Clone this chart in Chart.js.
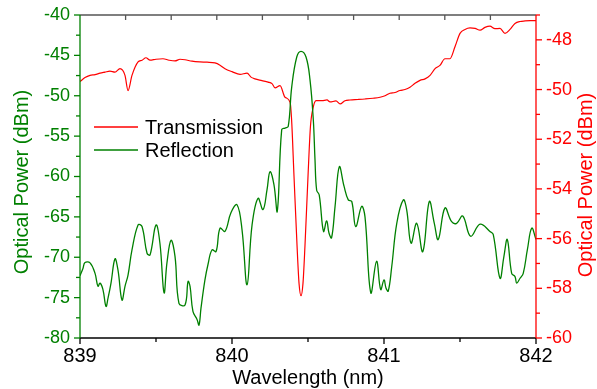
<!DOCTYPE html>
<html>
<head>
<meta charset="utf-8">
<script src="https://cdn.jsdelivr.net/npm/chart.js@4"></script>
<style>
  html, body { margin: 0; padding: 0; background: #fff; }
  canvas { display: block; }
</style>
</head>
<body>
<canvas id="chart" width="597" height="389"></canvas>
<script>
const GREEN = "#008000";
const RED = "#ff0000";
const FONT = "'Liberation Sans', Arial, sans-serif";

// Reflection (left axis, dBm)
const reflWl = [839.000, 839.020, 839.033, 839.066, 839.099, 839.118, 839.132, 839.151, 839.171, 839.184,
  839.204, 839.230, 839.250, 839.276, 839.296, 839.316, 839.342, 839.382, 839.408, 839.441,
  839.461, 839.500, 839.526, 839.553, 839.572, 839.599, 839.625, 839.651, 839.691, 839.711,
  839.724, 839.743, 839.770, 839.783, 839.796, 839.822, 839.842, 839.868, 839.895, 839.921,
  839.954, 839.993, 840.033, 840.066, 840.099, 840.132, 840.171, 840.204, 840.230, 840.250,
  840.276, 840.298, 840.327, 840.349, 840.370, 840.393, 840.426, 840.454, 840.487, 840.513,
  840.535, 840.546, 840.557, 840.574, 840.602, 840.623, 840.638, 840.655, 840.678, 840.706,
  840.737, 840.765, 840.788, 840.814, 840.853, 840.875, 840.913, 840.951, 840.978, 841.000,
  841.013, 841.028, 841.051, 841.084, 841.127, 841.149, 841.178, 841.215, 841.255, 841.298,
  841.331, 841.357, 841.401, 841.445, 841.478, 841.518, 841.570, 841.632, 841.697, 841.719,
  841.763, 841.789, 841.811, 841.840, 841.862, 841.873, 841.895, 841.916, 841.943, 841.972, 842.000];
const reflDbm = [-72.3, -71.35, -70.65, -70.7, -72.0, -73.6, -73.2, -74.0, -76.1, -75.1,
  -73.2, -70.2, -71.6, -75.3, -73.6, -72.2, -69.1, -66.0, -66.2, -69.5,
  -69.7, -66.0, -68.3, -74.4, -70.7, -67.9, -69.9, -75.7, -75.9, -73.0,
  -73.6, -76.7, -77.7, -78.4, -76.3, -72.8, -70.9, -69.1, -69.3, -66.4,
  -66.8, -64.5, -63.5, -66.6, -73.4, -66.0, -62.7, -64.1, -61.7, -59.4,
  -61.0, -64.3, -54.2, -54.0, -53.8, -48.9, -45.2, -44.5, -45.2, -48.0,
  -53.0, -57.9, -61.7, -62.3, -66.8, -65.5, -67.0, -67.6, -63.7, -58.8,
  -61.2, -62.9, -63.1, -66.2, -63.7, -65.0, -74.4, -70.5, -74.0, -72.8,
  -73.8, -74.2, -71.15, -65.8, -62.9, -64.1, -68.25, -65.8, -69.3, -63.1,
  -65.8, -67.8, -63.9, -65.6, -65.8, -64.9, -67.4, -65.9, -66.8, -67.2,
  -72.6, -69.9, -67.8, -72.0, -72.4, -73.2, -72.6, -72.0, -69.1, -66.4, -67.8];

// Transmission (right axis, dBm)
const transWl = [839.000, 839.033, 839.066, 839.099, 839.132, 839.164, 839.197, 839.230, 839.263, 839.296,
  839.316, 839.342, 839.382, 839.408, 839.434, 839.461, 839.500, 839.546, 839.586, 839.625,
  839.658, 839.691, 839.737, 839.789, 839.836, 839.888, 839.921, 839.954, 840.000, 840.053,
  840.099, 840.125, 840.151, 840.197, 840.237, 840.263, 840.283, 840.316, 840.349, 840.382,
  840.392, 840.408, 840.428, 840.441, 840.454, 840.467, 840.480, 840.500, 840.516, 840.533,
  840.553, 840.592, 840.625, 840.645, 840.684, 840.711, 840.743, 840.776, 840.829, 840.875,
  840.928, 840.974, 841.007, 841.039, 841.072, 841.105, 841.138, 841.171, 841.204, 841.237,
  841.270, 841.303, 841.336, 841.368, 841.401, 841.434, 841.467, 841.500, 841.533, 841.566,
  841.599, 841.632, 841.664, 841.697, 841.730, 841.763, 841.796, 841.829, 841.862, 841.895,
  841.928, 841.961, 842.000];
const transDbm = [-49.68, -49.52, -49.43, -49.40, -49.34, -49.30, -49.26, -49.30, -49.16, -49.43,
  -50.04, -49.43, -48.89, -48.82, -48.72, -48.82, -48.78, -48.76, -48.82, -48.85,
  -48.78, -48.80, -48.86, -48.89, -48.90, -48.93, -49.02, -49.16, -49.28, -49.39,
  -49.34, -49.50, -49.57, -49.64, -49.70, -49.76, -49.93, -49.84, -50.31, -50.51,
  -51.2, -53.5, -56.3, -57.8, -58.3, -57.8, -56.3, -53.5, -51.5, -50.75,
  -50.45, -50.45, -50.42, -50.50, -50.46, -50.58, -50.45, -50.42, -50.40, -50.38,
  -50.35, -50.31, -50.25, -50.15, -50.12, -50.04, -50.0, -49.91, -49.75, -49.63,
  -49.57, -49.43, -49.16, -49.03, -48.76, -48.76, -48.28, -47.74, -47.58, -47.52,
  -47.54, -47.61, -47.50, -47.45, -47.55, -47.54, -47.74, -47.58, -47.34, -47.26,
  -47.24, -47.23, -47.23];

const xTicks = [839, 840, 841, 842];
const leftTicks = [-80, -75, -70, -65, -60, -55, -50, -45, -40];
const rightTicks = [-60, -58, -56, -54, -52, -50, -48];
const seriesNames = ["Transmission", "Reflection"];

function toPoints(xs, ys) {
  return xs.map((x, i) => ({ x: x, y: ys[i] }));
}

const axesPlugin = {
  id: "axes",
  afterDraw(chart) {
    const ctx = chart.ctx;
    const a = chart.chartArea;
    const xs = chart.scales.x, yl = chart.scales.y, yr = chart.scales.y1;
    const seg = (x1, y1, x2, y2) => { ctx.beginPath(); ctx.moveTo(x1, y1); ctx.lineTo(x2, y2); ctx.stroke(); };
    ctx.save();
    ctx.lineWidth = 1.3;

    // top frame with inward ticks
    ctx.strokeStyle = "#555";
    seg(a.left, a.top, a.right, a.top);
    for (let i = 1; i < 10; i++) {
      const px = xs.getPixelForValue(839 + 0.3 * i);
      seg(px, a.top, px, a.top + 5);
    }

    // bottom axis
    ctx.strokeStyle = "#000";
    seg(a.left, a.bottom, a.right, a.bottom);
    ctx.fillStyle = "#000";
    ctx.font = "20px " + FONT;
    ctx.textAlign = "center";
    ctx.textBaseline = "top";
    xTicks.forEach((t, i) => {
      const px = xs.getPixelForValue(t);
      seg(px, a.bottom, px, a.bottom + 6);
      ctx.fillText(String(t), px, a.bottom + 8);
      if (i < xTicks.length - 1) {
        const mx = xs.getPixelForValue(t + 0.5);
        seg(mx, a.bottom, mx, a.bottom + 4);
      }
    });
    ctx.textBaseline = "alphabetic";
    ctx.fillText("Wavelength (nm)", (a.left + a.right) / 2, 384);

    // left axis
    ctx.strokeStyle = GREEN;
    ctx.fillStyle = GREEN;
    seg(a.left, a.top, a.left, a.bottom);
    ctx.font = "18px " + FONT;
    ctx.textAlign = "right";
    ctx.textBaseline = "middle";
    leftTicks.forEach((t, i) => {
      const py = yl.getPixelForValue(t);
      seg(a.left - 6, py, a.left, py);
      ctx.fillText(String(t), a.left - 10, py);
      if (i < leftTicks.length - 1) {
        const my = yl.getPixelForValue(t + 2.5);
        seg(a.left - 4, my, a.left, my);
      }
    });
    ctx.save();
    ctx.translate(22, 182);
    ctx.rotate(-Math.PI / 2);
    ctx.textAlign = "center";
    ctx.font = "20px " + FONT;
    ctx.fillText("Optical Power (dBm)", 0, 0);
    ctx.restore();

    // right axis
    ctx.strokeStyle = RED;
    ctx.fillStyle = RED;
    seg(a.right, a.top, a.right, a.bottom);
    ctx.font = "18px " + FONT;
    ctx.textAlign = "left";
    ctx.textBaseline = "middle";
    rightTicks.forEach((t, i) => {
      const py = yr.getPixelForValue(t);
      seg(a.right, py, a.right + 6, py);
      ctx.fillText(String(t), a.right + 10, py);
      const my = yr.getPixelForValue(t + 1);
      if (t + 1 <= yr.max) seg(a.right, my, a.right + 4, my);
    });
    ctx.save();
    ctx.translate(586, 185);
    ctx.rotate(-Math.PI / 2);
    ctx.textAlign = "center";
    ctx.font = "20px " + FONT;
    ctx.fillText("Optical Power (dBm)", 0, 0);
    ctx.restore();

    // legend
    ctx.textAlign = "left";
    ctx.textBaseline = "alphabetic";
    ctx.font = "20px " + FONT;
    ctx.fillStyle = "#000";
    ctx.lineWidth = 1.3;
    ctx.strokeStyle = RED;
    seg(94, 127, 138, 127);
    ctx.fillText(seriesNames[0], 145, 134);
    ctx.strokeStyle = GREEN;
    seg(94, 150, 138, 150);
    ctx.fillText(seriesNames[1], 145, 157);

    ctx.restore();
  }
};

new Chart(document.getElementById("chart"), {
  type: "line",
  data: {
    datasets: [
      {
        label: seriesNames[1],
        data: toPoints(reflWl, reflDbm),
        yAxisID: "y",
        borderColor: GREEN,
        borderWidth: 1.3,
        pointRadius: 0,
        tension: 0.4,
        fill: false
      },
      {
        label: seriesNames[0],
        data: toPoints(transWl, transDbm),
        yAxisID: "y1",
        borderColor: RED,
        borderWidth: 1.2,
        pointRadius: 0,
        cubicInterpolationMode: "monotone",
        fill: false
      }
    ]
  },
  options: {
    responsive: false,
    animation: false,
    layout: { padding: { left: 80, right: 61, top: 15, bottom: 51 } },
    plugins: { legend: { display: false }, tooltip: { enabled: false } },
    scales: {
      x: { type: "linear", min: 839, max: 842, display: false },
      y: { type: "linear", position: "left", min: -80, max: -40, display: false },
      y1: { type: "linear", position: "right", min: -60, max: -47, display: false }
    }
  },
  plugins: [axesPlugin]
});
</script>
</body>
</html>
